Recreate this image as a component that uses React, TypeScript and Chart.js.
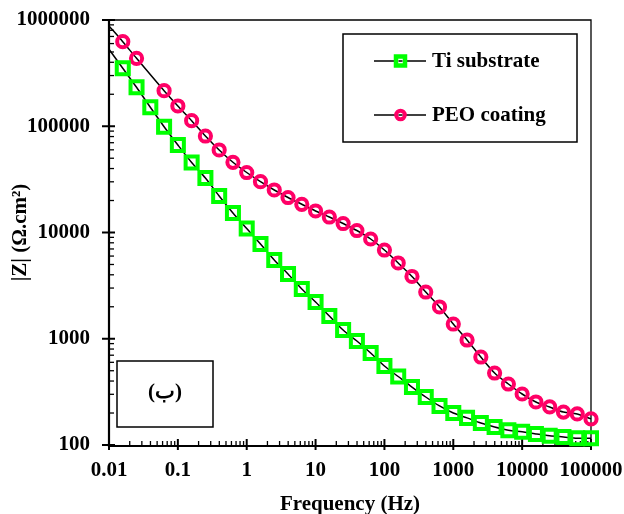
import React, { useEffect, useRef } from "react";
import { Chart, registerables } from "chart.js";

Chart.register(...registerables);

// Frequencies (Hz) of the measured points
const frequencies = [
  0.01585, 0.02512, 0.03981, 0.0631, 0.1, 0.1585, 0.2512, 0.3981, 0.631, 1,
  1.585, 2.512, 3.981, 6.31, 10, 15.85, 25.12, 39.81, 63.1, 100, 158.5, 251.2,
  398.1, 631, 1000, 1585, 2512, 3981, 6310, 10000, 15850, 25120, 39810, 63100,
  100000,
];

// |Z| of the Ti substrate (Ω.cm²)
const tiZ = [
  351000, 232600, 150800, 99000, 66600, 45600, 32600, 22050, 15260, 10900,
  7795, 5511, 4069, 2939, 2218, 1637, 1209, 952, 734, 554, 441, 351, 283, 233,
  200, 180, 161, 148, 138, 133, 127, 122, 119, 116, 116,
];

// |Z| of the PEO coating (Ω.cm²); one point missing in the figure
const peoZ = [
  625000, 436000, null, 216000, 155100, 112800, 80930, 59770, 45790, 36700,
  30080, 25120, 21350, 18430, 15940, 13990, 12150, 10440, 8686, 6843, 5164,
  3854, 2754, 1990, 1376, 973, 673, 476, 375, 302, 254, 228, 204, 196, 176,
];

// Fitted curves start at the left edge of the plot
const fitStartFreq = 0.01;
const tiFitStart = 530000;
const peoFitStart = 880000;

const xTickValues = [0.01, 0.1, 1, 10, 100, 1000, 10000, 100000];
const yTickValues = [100, 1000, 10000, 100000, 1000000];

const seriesNames = ["Ti substrate", "PEO coating"];
const panelLabel = "(ب)";
const xTitle = "Frequency (Hz)";
const yTitle = "|Z| (Ω.cm²)";

const GREEN = "#00FF00";
const PINK = "#FF0066";
const FONT = "'Liberation Serif', 'Times New Roman', serif";

function buildSeries(start: number, values: (number | null)[]) {
  const pts: { x: number; y: number | null }[] = [{ x: fitStartFreq, y: start }];
  frequencies.forEach((f, i) => pts.push({ x: f, y: values[i] }));
  return pts;
}

const framePlugin = {
  id: "frameTicks",
  beforeDatasetsDraw(chart: any) {
    const { ctx, chartArea } = chart;
    const { left, right, top, bottom } = chartArea;
    const xs = chart.scales.x;
    const ys = chart.scales.y;
    ctx.save();
    ctx.strokeStyle = "#000";
    ctx.lineCap = "butt";
    ctx.lineWidth = 1.3;
    ctx.beginPath();
    ctx.moveTo(left, top);
    ctx.lineTo(right, top);
    ctx.lineTo(right, bottom);
    ctx.stroke();
    for (let d = yTickValues[0]; d <= yTickValues[yTickValues.length - 1] * 1.0001; d *= 10) {
      const py = ys.getPixelForValue(d);
      ctx.lineWidth = 2;
      ctx.beginPath();
      ctx.moveTo(left - 7, py);
      ctx.lineTo(left + 6, py);
      ctx.stroke();
      for (let k = 2; k <= 9; k++) {
        const v = d * k;
        if (v > ys.max * 1.0001) break;
        const pm = ys.getPixelForValue(v);
        ctx.lineWidth = 1.3;
        ctx.beginPath();
        ctx.moveTo(left, pm);
        ctx.lineTo(left + 5, pm);
        ctx.stroke();
      }
    }
    for (let d = xTickValues[0]; d <= xTickValues[xTickValues.length - 1] * 1.0001; d *= 10) {
      const px = xs.getPixelForValue(d);
      ctx.lineWidth = 2;
      ctx.beginPath();
      ctx.moveTo(px, bottom - 6);
      ctx.lineTo(px, bottom + 5);
      ctx.stroke();
      for (let k = 2; k <= 9; k++) {
        const v = d * k;
        if (v > xs.max * 1.0001) break;
        const pm = xs.getPixelForValue(v);
        ctx.lineWidth = 1.3;
        ctx.beginPath();
        ctx.moveTo(pm, bottom);
        ctx.lineTo(pm, bottom - 4);
        ctx.stroke();
      }
    }
    ctx.lineWidth = 2.2;
    ctx.beginPath();
    ctx.moveTo(left, top - 1);
    ctx.lineTo(left, bottom + 1);
    ctx.lineTo(right + 1, bottom + 1);
    ctx.stroke();
    ctx.restore();
  },
  afterDraw(chart: any) {
    const { ctx } = chart;
    ctx.save();
    ctx.strokeStyle = "#000";
    ctx.fillStyle = "#000";
    ctx.lineWidth = 1.5;
    ctx.strokeRect(343, 34, 234, 108);
    const rows = [61, 115];
    rows.forEach((yy, i) => {
      ctx.lineWidth = 1.5;
      ctx.strokeStyle = "#000";
      ctx.beginPath();
      ctx.moveTo(374, yy);
      ctx.lineTo(426, yy);
      ctx.stroke();
      const cx = 400.5;
      if (i === 0) {
        ctx.fillStyle = "#fff";
        ctx.fillRect(cx - 4.5, yy - 4.5, 9, 9);
        ctx.strokeStyle = GREEN;
        ctx.lineWidth = 4.5;
        ctx.strokeRect(cx - 4.5, yy - 4.5, 9, 9);
      } else {
        ctx.fillStyle = "#fff";
        ctx.beginPath();
        ctx.arc(cx, yy, 4.3, 0, Math.PI * 2);
        ctx.fill();
        ctx.strokeStyle = PINK;
        ctx.lineWidth = 4;
        ctx.stroke();
      }
      ctx.strokeStyle = "#000";
      ctx.lineWidth = 1.5;
      ctx.beginPath();
      ctx.moveTo(cx - 2, yy);
      ctx.lineTo(cx + 2, yy);
      ctx.stroke();
      ctx.fillStyle = "#000";
      ctx.font = `bold 21px ${FONT}`;
      ctx.textAlign = "left";
      ctx.textBaseline = "middle";
      ctx.fillText(seriesNames[i], 432, yy + 1);
    });
    ctx.strokeStyle = "#000";
    ctx.lineWidth = 1.5;
    ctx.strokeRect(117, 361, 96, 66);
    ctx.font = `bold 21px ${FONT}`;
    ctx.textAlign = "center";
    ctx.textBaseline = "middle";
    ctx.fillText(panelLabel, 165, 393);
    ctx.restore();
  },
};

export default function App() {
  const ref = useRef<HTMLCanvasElement>(null);
  useEffect(() => {
    if (!ref.current) return;
    const chart = new Chart(ref.current, {
      type: "line",
      data: {
        datasets: [
          {
            label: seriesNames[0],
            data: buildSeries(tiFitStart, tiZ) as any,
            borderColor: "#000",
            borderWidth: 1.5,
            tension: 0.3,
            pointStyle: "rect",
            pointRadius: (c: any) => (c.dataIndex === 0 ? 0 : 8.5),
            pointBorderColor: GREEN,
            pointBackgroundColor: "rgba(0,0,0,0)",
            pointBorderWidth: 4,
            spanGaps: true,
            clip: false as any,
          },
          {
            label: seriesNames[1],
            data: buildSeries(peoFitStart, peoZ) as any,
            borderColor: "#000",
            borderWidth: 1.5,
            tension: 0.3,
            pointStyle: "circle",
            pointRadius: (c: any) => (c.dataIndex === 0 ? 0 : 5.6),
            pointBorderColor: PINK,
            pointBackgroundColor: "rgba(0,0,0,0)",
            pointBorderWidth: 4,
            spanGaps: true,
            clip: false as any,
          },
        ],
      },
      options: {
        animation: false,
        responsive: true,
        maintainAspectRatio: false,
        layout: { padding: { left: 0, top: 20, right: 33, bottom: 0 } },
        plugins: { legend: { display: false }, tooltip: { enabled: false } },
        scales: {
          x: {
            type: "logarithmic",
            min: 0.01,
            max: 100000,
            grid: { display: false, drawTicks: false },
            border: { display: false },
            afterBuildTicks: (s: any) => {
              s.ticks = xTickValues.map((v) => ({ value: v }));
            },
            afterFit: (s: any) => {
              s.height = 69;
              s.paddingLeft = 0;
              s.paddingRight = 0;
            },
            ticks: {
              autoSkip: false,
              maxRotation: 0,
              padding: 13,
              color: "#000",
              font: { family: FONT, size: 21, weight: "bold" },
              callback: (v: any) => String(v),
            },
            title: {
              display: true,
              text: xTitle,
              color: "#000",
              font: { family: FONT, size: 21, weight: "bold", lineHeight: 0.9 },
              padding: 0,
            },
          },
          y: {
            type: "logarithmic",
            min: 100,
            max: 1000000,
            grid: { display: false, drawTicks: false },
            border: { display: false },
            afterBuildTicks: (s: any) => {
              s.ticks = yTickValues.map((v) => ({ value: v }));
            },
            afterFit: (s: any) => {
              s.width = 109;
              s.paddingTop = 0;
              s.paddingBottom = 0;
            },
            ticks: {
              autoSkip: false,
              padding: 19,
              color: "#000",
              font: { family: FONT, size: 21, weight: "bold" },
              callback: (v: any) => String(v),
            },
            title: {
              display: true,
              text: yTitle,
              color: "#000",
              font: { family: FONT, size: 21, weight: "bold", lineHeight: 1 },
              padding: { top: 10, bottom: 0 },
            },
          },
        },
      },
      plugins: [framePlugin],
    });
    return () => chart.destroy();
  }, []);
  return (
    <div style={{ position: "absolute", left: 0, top: 0, width: 624, height: 514, background: "#fff" }}>
      <canvas ref={ref} />
    </div>
  );
}
